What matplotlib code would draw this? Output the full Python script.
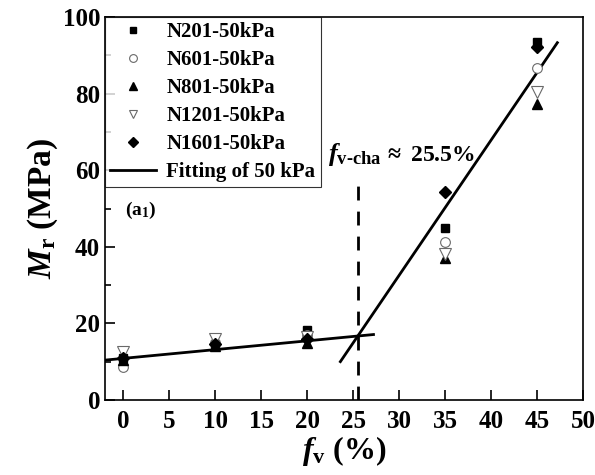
import numpy as np
import matplotlib
matplotlib.use("Agg")
import matplotlib.pyplot as plt
from matplotlib.ticker import MultipleLocator

plt.rcParams['font.family'] = ['Liberation Serif', 'DejaVu Serif']
plt.rcParams['font.weight'] = 'bold'
plt.rcParams['mathtext.fontset'] = 'custom'
plt.rcParams['mathtext.rm'] = 'Liberation Serif:bold'
plt.rcParams['mathtext.it'] = 'Liberation Serif:bold:italic'
plt.rcParams['mathtext.bf'] = 'Liberation Serif:bold'

# data
fv = [0, 10, 20, 35, 45]
n201 = [11.0, 14.5, 18.3, 44.8, 93.5]
n601 = [8.6, 15.0, 17.0, 41.3, 86.6]
n801 = [10.5, 14.0, 15.0, 37.0, 77.3]
n1201 = [12.5, 15.8, 16.5, 38.0, 80.5]
n1601 = [11.0, 14.5, 16.0, 54.4, 92.2]
labels = ['N201-50kPa', 'N601-50kPa', 'N801-50kPa', 'N1201-50kPa', 'N1601-50kPa']

# two-segment fit
fit_x1 = [-2.0, 27.2]
fit1 = (0.229, 10.86)      # slope, intercept
fit_x2 = [23.6, 47.2]
fit2 = (3.53, -73.3)
fv_cha = 25.5
fv_cha_top = 58.5

fig = plt.figure(figsize=(5.95, 4.75), dpi=100)
ax = fig.add_axes([0.1765, 0.158, 0.8035, 0.806])

styles = [
    dict(marker='s', color='black', mfc='black', ms=6),
    dict(marker='o', color='dimgray', mfc='white', ms=7, mew=0.8),
    dict(marker='^', color='black', mfc='black', ms=7),
    dict(marker='v', color='dimgray', mfc='white', ms=8, mew=0.8),
    dict(marker='D', color='black', mfc='black', ms=6),
]
series = [n201, n601, n801, n1201, n1601]
for ys, lab, st in zip(series, labels, styles):
    ax.plot(fv, ys, linestyle='none', label=lab, zorder=3, **st)

x1 = np.array(fit_x1)
x2 = np.array(fit_x2)
ax.plot(x1, fit1[0] * x1 + fit1[1], color='black', lw=2, label='Fitting of 50 kPa')
ax.plot(x2, fit2[0] * x2 + fit2[1], color='black', lw=2)
ax.plot([fv_cha, fv_cha], [0, fv_cha_top], color='black', lw=2, ls=(0, (5, 4)))

ax.text(22.3, 62.5, r'$f_{\mathrm{v\text{-}cha}}$', fontsize=19, ha='left', va='baseline')
ax.text(28.3, 62.5, r'$\approx$ 25.5%', fontsize=17, ha='left', va='baseline',
        fontweight='bold')
ax.text(0.2, 49.5, r'(a$_{\mathrm{1}}$)', fontsize=14, ha='left', va='center',
        fontweight='bold')

ax.set_xlim(-2, 50)
ax.set_ylim(0, 100)
ax.xaxis.set_major_locator(MultipleLocator(5))
ax.yaxis.set_major_locator(MultipleLocator(20))
ax.yaxis.set_minor_locator(MultipleLocator(10))
ax.tick_params(direction='in', labelsize=18, length=7, width=1.2)
ax.tick_params(axis='x', pad=7)
ax.tick_params(which='minor', direction='in', length=4, width=1.2)
ax.tick_params(axis='x', which='minor', bottom=False)
for s in ax.spines.values():
    s.set_linewidth(1.2)

ax.set_xlabel(r'$f_{\mathrm{v}}$ (%)', fontsize=23, labelpad=1, fontweight='bold')
ax.set_ylabel(r'$M_{\mathrm{r}}$ (MPa)', fontsize=24, labelpad=2, fontweight='bold')

leg = ax.legend(loc='upper left', fontsize=15, frameon=True, fancybox=False,
                edgecolor='black', borderpad=0.25, labelspacing=0.38,
                handlelength=2.2, handletextpad=0.5, borderaxespad=0.0,
                markerscale=0.8)
leg.get_frame().set_linewidth(0.8)

fig.savefig('out.png', dpi=100)
